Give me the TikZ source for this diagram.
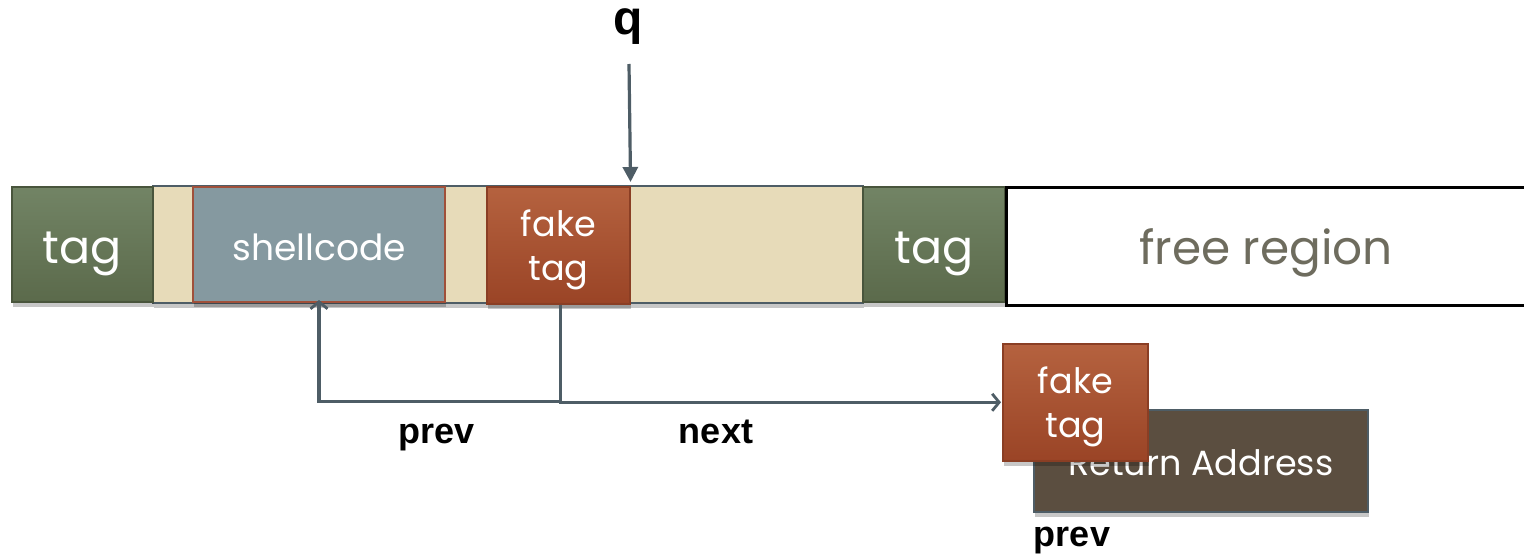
\documentclass[tikz,border=0pt]{standalone}
\usepackage{fontspec}
\setmainfont{Poppins}
\newfontfamily\labelfont{Liberation Sans}
\usetikzlibrary{arrows.meta,shadows,calc}

\definecolor{slate}{HTML}{4E5D66}
\definecolor{tagtop}{HTML}{728465}
\definecolor{tagbot}{HTML}{5B6A4B}
\definecolor{fakehi}{HTML}{B5623F}
\definecolor{fakelo}{HTML}{9A4426}
\definecolor{fakeedge}{HTML}{8A3E24}
\definecolor{shellfill}{HTML}{8599A0}
\definecolor{shelledge}{HTML}{A0503A}
\definecolor{beige}{HTML}{E7DBB9}
\definecolor{retfill}{HTML}{5B4E40}
\definecolor{freetext}{HTML}{6E6C5E}

\begin{document}
\begin{tikzpicture}[x=1pt,y=-1pt,
  cell/.style={draw=slate, line width=1.6pt, anchor=north west, inner sep=0pt,
    align=center, text=white,
    drop shadow={shadow xshift=1pt, shadow yshift=-5pt, opacity=0.22, fill=black}},
  tagcell/.style={cell, top color=tagtop, bottom color=tagbot, draw=tagbot!80!black,
    font=\fontsize{46}{50}\selectfont, text height=39pt, text depth=0pt},
  fakecell/.style={cell, top color=fakehi, bottom color=fakelo, draw=fakeedge,
    font=\fontsize{35}{44}\selectfont, text depth=0pt},
  pad/.style={cell, fill=beige},
  label/.style={font=\labelfont\bfseries\fontsize{36}{40}\selectfont, text=black,
    inner sep=0pt, anchor=base},
  link/.style={draw=slate, line width=3.2pt, -{Straight Barb[length=7pt,width=17pt,line width=2.8pt]}},
]
\useasboundingbox (0,0) rectangle (1524,556);

% chunk body between the two boundary tags
\node[pad, minimum width=710pt, minimum height=117pt] (body) at (152,185) {};

% boundary tags
\node[tagcell, minimum width=141pt, minimum height=115pt] (tagL) at (11,186) {tag};
\node[tagcell, minimum width=142pt, minimum height=115pt] (tagR) at (862,186) {tag};

% payload inside the chunk
\node[cell, fill=shellfill, draw=shelledge, line width=2pt,
      minimum width=252pt, minimum height=115pt,
      font=\fontsize{36}{40}\selectfont, text height=33pt, text depth=0pt] (shell) at (192,186) {shellcode};
\node[fakecell, minimum width=143pt, minimum height=117pt] (fake1) at (486,186) {fake\\tag};

% free region to the right
\node[draw=black, line width=2.8pt, fill=white, anchor=north west, inner sep=0pt,
      minimum width=540pt, minimum height=118pt] (free) at (1005,186) {};
\node[text=freetext, font=\fontsize{47}{50}\selectfont, inner sep=0pt, anchor=base] (freetxt) at (1266,265) {free region};

% q pointer
\node[label, font=\labelfont\bfseries\fontsize{48}{52}\selectfont] (q) at (628,35) {q};
\coordinate (qtail) at (629,64);
\draw[draw=slate, line width=3.2pt, -{Triangle[length=15pt,width=15pt]}, shorten >=4pt]
  (qtail) -- (fake1.north east);

% forged chunk near the return address
\node[cell, fill=retfill, minimum width=334pt, minimum height=102pt,
      font=\fontsize{35}{40}\selectfont, text height=30pt, text depth=0pt] (ret) at (1033,409) {Return Address};
\node[fakecell, minimum width=145pt, minimum height=117pt] (fake2) at (1002,343) {fake\\tag};

% prev / next links of the fake tag
\draw[link] ([xshift=2pt]fake1.south) -- ++(0,97) -| ([yshift=3pt]shell.south);
\draw[link, shorten >=1pt] ([xshift=2pt]fake1.south) |- (fake2.west);

\node[label] (prevA) at (437,443) {prev};
\node[label] (nextA) at (716,443) {next};
\node[label] (prevB) at (1072,546) {prev};
\end{tikzpicture}
\end{document}
